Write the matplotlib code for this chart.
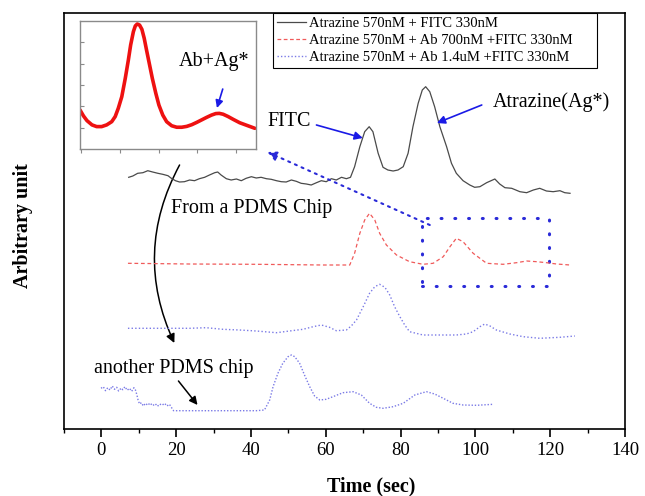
import matplotlib
matplotlib.use("Agg")
import matplotlib.pyplot as plt
from matplotlib.patches import FancyArrowPatch, Rectangle
from matplotlib.lines import Line2D

plt.rcParams['font.family'] = ['Liberation Serif', 'DejaVu Serif']

# ---------------- data ----------------
# Atrazine 570nM + FITC 330nM  (black, solid)
t_black = [7.3, 8.4, 9.7, 11.1, 12.4, 13.7, 15.1, 16.4, 17.8, 18.7, 19.8, 20.9, 22.2, 23.6,
           24.9, 26.2, 27.6, 28.9, 30.3, 31.1, 32.0, 33.4, 34.7, 36.1, 37.4, 38.7, 40.1, 41.4,
           42.7, 44.1, 45.4, 46.8, 48.1, 49.4, 50.8, 52.1, 53.4, 54.8, 56.1, 57.5, 58.8, 60.1,
           61.5, 62.8, 64.2, 65.5, 66.6, 67.7, 69.1, 70.4, 71.6, 72.6, 74.0, 75.3, 76.6, 78.0,
           79.3, 80.7, 82.0, 83.3, 84.7, 85.8, 86.7, 87.8, 89.1, 90.5, 92.3, 93.6, 94.9, 96.7,
           98.5, 99.8, 101.2, 103.0, 105.2, 106.5, 107.9, 109.7, 111.9, 113.7, 115.5, 117.2,
           119.0, 120.8, 122.6, 123.9, 125.3]
y_black = [251.7, 253, 255.7, 256.3, 258.3, 257, 255.7, 254.7, 253.3, 250.7, 248.3, 247, 247.3,
           249, 248.3, 250.3, 251.7, 254, 256.3, 257, 254, 250.3, 249, 250, 248.3, 250.7, 252.3,
           251, 251.7, 250.3, 249.7, 248.3, 247.3, 247, 249, 247.7, 245.7, 245, 244, 246.3,
           248.3, 247.3, 250.3, 249, 251.7, 250.3, 251.7, 262.3, 282.3, 297.3, 302.3, 297.3,
           275.7, 261.7, 259, 258, 259, 262.3, 275.7, 302.3, 325.7, 339, 342.3, 337.3, 322.3,
           302.3, 282.3, 265.7, 255.7, 248.3, 244, 241.7, 242.3, 246.3, 250, 245, 241.3, 240.7,
           237.3, 236.3, 239, 240.7, 238, 237.3, 238.3, 236.3, 235.7]

# Atrazine 570nM + Ab 700nM + FITC 330nM  (red, dashed)
t_red = [7.1, 23.6, 41.4, 59.2, 66.4, 67.7, 69.1, 70.4, 71.7, 73.1, 74.4, 76.2, 78.9, 82.4,
         86.0, 88.7, 91.4, 93.2, 94.9, 96.7, 99.4, 103.0, 107.4, 111.0, 113.7, 116.4, 119.0,
         121.7, 125.3]
y_red = [165.7, 165, 164.7, 164, 164, 175.7, 195.7, 209, 215.7, 209, 195.7, 184, 174, 167.3,
         164.7, 165.7, 172.3, 182.3, 190.7, 187.3, 175.7, 165.7, 164.7, 166.3, 168, 167.3,
         166.3, 165, 164]

# Atrazine 570nM + Ab 1.4uM + FITC 330nM  (blue, dotted)
t_blue = [7.1, 14.6, 23.6, 28.0, 32.5, 36.9, 41.4, 46.8, 50.3, 53.9, 56.6, 58.8, 61.0, 62.8,
          65.5, 66.8, 68.2, 70.0, 71.7, 73.1, 74.4, 75.8, 77.1, 78.4, 79.8, 81.1, 82.4, 86.0,
          90.5, 94.9, 97.6, 99.4, 101.2, 102.5, 103.9, 105.6, 109.2, 112.8, 117.2, 122.6, 126.6]
y_blue = [100.7, 100.7, 100.7, 101.3, 99.7, 99, 98, 96.3, 98, 99.7, 102.3, 104, 101.7, 98.3,
          99, 103, 109, 122.3, 135.7, 142.3, 144.7, 141.7, 134, 122.3, 112.3, 104, 97.3, 94,
          94, 94, 95, 97.3, 102.3, 105, 103, 99, 95, 92.3, 90.7, 91.7, 93]

# another PDMS chip  (blue, dotted)
t_chip2 = [-0.1, 0.5, 1.1, 1.7, 2.3, 2.9, 3.5, 4.1, 4.6, 5.3, 5.7, 6.3, 6.9, 7.5, 8.1, 8.7,
           9.1, 9.5, 9.8, 10.2, 10.7, 11.2, 11.8, 12.4, 13.0, 13.7, 14.4, 15.0, 15.6, 16.2,
           16.9, 17.5, 18.2, 18.7, 19.3, 23.6, 32.5, 41.4, 43.6, 45.0, 45.9, 47.2, 48.5, 49.9,
           50.8, 51.7, 53.0, 54.3, 55.7, 57.0, 58.4, 60.1, 61.9, 64.6, 67.3, 69.5, 71.7, 73.5,
           75.3, 78.0, 80.7, 83.8, 86.9, 89.1, 91.4, 94.0, 96.7, 100.3, 104.8]
y_chip2 = [40.7, 42.3, 38.3, 41.3, 39, 43, 39.7, 41.7, 38, 41, 39.3, 42.3, 38.7, 40.7, 37.7,
           41.3, 39, 34, 29, 25, 26.3, 23, 25.7, 23.7, 26, 23.3, 25.3, 22.7, 25, 23.7, 25.7,
           23, 24.7, 21.7, 18.3, 18.3, 18.3, 18.3, 19, 29, 42.3, 55.7, 65.7, 72.3, 74, 72.3,
           65.7, 54, 42.3, 33, 29, 29.7, 32.3, 36.3, 37.3, 34, 25.7, 21.7, 20.7, 22.3, 25.7,
           34, 37.3, 35, 30.7, 25.7, 24, 23.7, 24.7]

# inset (zoomed red trace)
x_inset = [-0.03, 0.06, 0.15, 0.28, 0.40, 0.53, 0.66, 0.79, 0.88, 0.96, 1.05, 1.14, 1.22,
           1.28, 1.35, 1.40, 1.45, 1.51, 1.57, 1.63, 1.69, 1.76, 1.84, 1.93, 2.01, 2.11,
           2.21, 2.34, 2.47, 2.60, 2.73, 2.86, 2.99, 3.11, 3.24, 3.37, 3.48, 3.57, 3.67,
           3.80, 3.93, 4.10, 4.28, 4.49]
y_inset = [1.83, 1.55, 1.33, 1.13, 1.05, 1.05, 1.13, 1.28, 1.52, 1.91, 2.45, 3.31, 4.17,
           4.88, 5.50, 5.77, 5.86, 5.81, 5.61, 5.19, 4.64, 4.02, 3.31, 2.61, 2.06, 1.59,
           1.28, 1.09, 1.02, 1.02, 1.06, 1.14, 1.25, 1.36, 1.48, 1.59, 1.66, 1.67, 1.63,
           1.52, 1.39, 1.23, 1.11, 0.97]

labels = ["Atrazine 570nM + FITC 330nM",
          "Atrazine 570nM + Ab 700nM +FITC 330nM",
          "Atrazine 570nM + Ab 1.4uM +FITC 330nM"]
x_ticks = [0, 20, 40, 60, 80, 100, 120, 140]

# ---------------- figure ----------------
W, H = 645, 496
fig = plt.figure(figsize=(W / 100, H / 100), dpi=100)
ax = fig.add_axes([64 / W, 1 - 429 / H, (625 - 64) / W, (429 - 13) / H])
ax.set_xlim(-10, 140)
ax.set_ylim(0, 416)

c_black = '#4a4a4a'
c_red = '#f05a5a'
c_blue = '#7a7ae6'
c_arrow = '#1a1ae6'

ax.plot(t_black, y_black, color=c_black, lw=0.9, solid_joinstyle='round')
ax.plot(t_red, y_red, color=c_red, lw=0.9, linestyle=(0, (3.0, 2.2)))
ax.plot(t_blue, y_blue, color=c_blue, lw=1.0, linestyle=(0, (1, 1.6)))
ax.plot(t_chip2, y_chip2, color=c_blue, lw=1.0, linestyle=(0, (1, 1.3)))

# axes styling
for s in ax.spines.values():
    s.set_linewidth(1.2)
    s.set_color('black')
ax.set_yticks([])
ax.set_xticks(x_ticks)
ax.set_xticks(list(range(-10, 141, 10)), minor=True)
ax.tick_params(axis='x', which='major', direction='out', length=6, width=1.2,
               labelsize=13.5, pad=3.5)
ax.tick_params(axis='x', which='minor', direction='out', length=3, width=1.0)
ax.set_xlabel('Time (sec)', fontsize=14.5, fontweight='bold')
ax.xaxis.set_label_coords(0.547, -0.114)
ax.set_ylabel('Arbitrary unit', fontsize=14.5, fontweight='bold')
ax.yaxis.set_label_coords(-0.056, 0.49)

# legend (frame drawn separately to match the wider box)
handles = [Line2D([], [], color=c_black, lw=0.9),
           Line2D([], [], color=c_red, lw=0.9, linestyle=(0, (3, 2))),
           Line2D([], [], color=c_blue, lw=1.0, linestyle=(0, (1, 1.5)))]
leg = ax.legend(handles, labels, loc='upper left', bbox_to_anchor=(0.3725, 1.0),
                borderaxespad=0, frameon=False, fontsize=10.5, handlelength=2.0,
                handletextpad=0.25, labelspacing=0.28, borderpad=0.25)
ax.add_patch(Rectangle((0.3725, 0.868), 0.5775, 0.132, transform=ax.transAxes,
                       fill=True, facecolor='white', edgecolor='black', lw=0.8, zorder=4))
leg.set_zorder(5)

# annotations
ax.text(50.1, 308, 'FITC', fontsize=14.5, ha='center', va='center')
ax.annotate('', xy=(69.9, 291), xytext=(57.5, 304),
            arrowprops=dict(arrowstyle='-|>', color=c_arrow, lw=1.2, mutation_scale=12,
                            shrinkA=0, shrinkB=0))
ax.text(104.7, 327, 'Atrazine(Ag*)', fontsize=14.5, ha='left', va='center')
ax.annotate('', xy=(89.7, 306), xytext=(101.7, 324),
            arrowprops=dict(arrowstyle='-|>', color=c_arrow, lw=1.2, mutation_scale=12,
                            shrinkA=0, shrinkB=0))
ax.text(18.7, 221, 'From a PDMS Chip', fontsize=14.5, ha='left', va='center')
ax.text(-1.9, 61, 'another PDMS chip', fontsize=14.5, ha='left', va='center')
ax.annotate('', xy=(25.7, 24), xytext=(20.6, 48),
            arrowprops=dict(arrowstyle='-|>', color='black', lw=1.1, mutation_scale=12,
                            shrinkA=0, shrinkB=0))
curve = FancyArrowPatch(posA=(20.9, 264), posB=(19.5, 86),
                        connectionstyle='arc3,rad=0.25', arrowstyle='-|>',
                        mutation_scale=13, color='black', lw=1.1, shrinkA=0, shrinkB=0)
ax.add_patch(curve)

# dotted zoom box and dotted arrow to inset
box = Rectangle((85.7, 143), 119.6 - 85.7, 211 - 143, fill=False, edgecolor='#2a2ad8',
                lw=2.2, linestyle=(0, (0.3, 4.2)))
box.set_capstyle('round')
ax.add_patch(box)
ax.annotate('', xy=(44.4, 277), xytext=(87.8, 204),
            arrowprops=dict(arrowstyle='-|>', color='#2a2ad8', lw=1.5, mutation_scale=14,
                            linestyle=(0, (1, 2.5)), shrinkA=0, shrinkB=0))

# inset
axi = fig.add_axes([80 / W, 1 - 149 / H, 176 / W, 128 / H])
axi.plot(x_inset, y_inset, color='#ee1111', lw=2.6, solid_joinstyle='round',
         solid_capstyle='round')
axi.set_xlim(-0.03, 4.52)
axi.set_ylim(0, 6)
for s in axi.spines.values():
    s.set_color('#8a8a8a')
    s.set_linewidth(1.0)
axi.set_xticks([0, 1, 2, 3, 4])
axi.set_yticks([1, 2, 3, 4, 5])
axi.tick_params(axis='x', direction='out', length=3, color='#8a8a8a', labelbottom=False)
axi.tick_params(axis='y', direction='in', length=3, color='#8a8a8a', labelleft=False)
axi.text(3.43, 4.08, 'Ab+Ag*', fontsize=14.5, ha='center', va='center')
axi.annotate('', xy=(3.51, 1.92), xytext=(3.66, 2.81),
             arrowprops=dict(arrowstyle='-|>', color=c_arrow, lw=1.2, mutation_scale=11,
                             shrinkA=0, shrinkB=0))

fig.savefig('out.png', dpi=100)
